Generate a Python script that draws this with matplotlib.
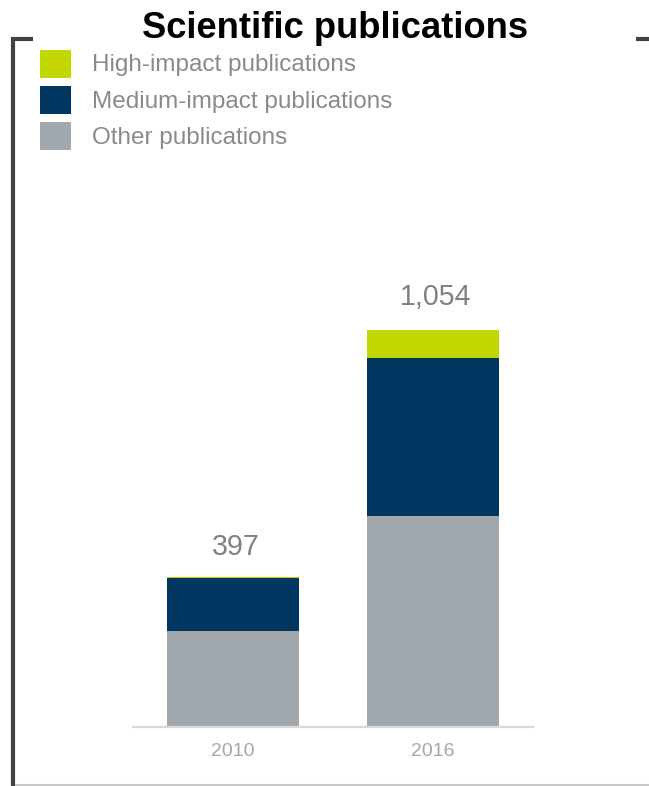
import matplotlib
matplotlib.use("Agg")
import matplotlib.pyplot as plt
from matplotlib.lines import Line2D
from matplotlib.patches import Rectangle

years = ["2010", "2016"]
other = [254, 559]
medium = [140, 420]
high = [3, 75]
totals = [397, 1054]
total_labels = ["397", "1,054"]
series_names = ["High-impact publications", "Medium-impact publications", "Other publications"]
colors = ["#c4d600", "#00365f", "#a0a7ad"]

W, H = 649, 786
plt.rcParams['font.family'] = ['Liberation Sans', 'DejaVu Sans']
fig = plt.figure(figsize=(W / 100, H / 100), dpi=100)

def fx(px):
    return px / W

def fy(py):
    return 1 - py / H

# axes placement
ax_left, ax_right = 133, 533
ax_bottom, ax_top = 726.7, 160
ax = fig.add_axes([fx(ax_left), fy(ax_bottom), (ax_right - ax_left) / W, (ax_bottom - ax_top) / H])

x = list(range(len(years)))
width = 0.662
bottoms_med = other
bottoms_high = [o + m for o, m in zip(other, medium)]
ax.bar(x, other, width, color=colors[2], linewidth=0)
ax.bar(x, medium, width, bottom=bottoms_med, color=colors[1], linewidth=0)
ax.bar(x, high, width, bottom=bottoms_high, color=colors[0], linewidth=0)

ax.set_xlim(-0.5, 1.5)
scale = 2.657  # units per pixel
ax.set_ylim(0, (ax_bottom - ax_top) * scale)

offsets = [16, 18]
for xi, t, lab, off in zip(x, totals, total_labels, offsets):
    ax.annotate(lab, (xi, t), xytext=(2, off), textcoords="offset points",
                ha="center", va="baseline", fontsize=20.6, color="#808080")

for s in ["top", "right", "left"]:
    ax.spines[s].set_visible(False)
ax.spines["bottom"].set_color("#d9d9d9")
ax.spines["bottom"].set_linewidth(1.6)
ax.set_yticks([])
ax.set_xticks(x)
ax.set_xticklabels(years, fontsize=14, color="#a6a6a6")
ax.tick_params(axis="x", length=0, pad=12)

# title
fig.text(fx(335), fy(38), "Scientific publications", ha="center", va="baseline",
         fontsize=26.2, fontweight="bold", color="black")

# legend (manual)
sq_tops = [49.5, 86, 121.7]
for name, col, top in zip(series_names, colors, sq_tops):
    fig.add_artist(Rectangle((fx(40), fy(top + 28)), 30.5 / W, 28 / H,
                             transform=fig.transFigure, facecolor=col, edgecolor="none"))
    fig.text(fx(92), fy(top + 16), name, ha="left", va="center",
             fontsize=17.5, color="#8a8a8a")

# frame decorations
dark = "#3f4443"
fig.add_artist(Line2D([fx(13), fx(13)], [fy(36.5), fy(786)], transform=fig.transFigure,
                      color=dark, linewidth=3, solid_capstyle="butt"))
fig.add_artist(Line2D([fx(11), fx(33)], [fy(38.5), fy(38.5)], transform=fig.transFigure,
                      color=dark, linewidth=3, solid_capstyle="butt"))
fig.add_artist(Line2D([fx(636), fx(649)], [fy(38.5), fy(38.5)], transform=fig.transFigure,
                      color=dark, linewidth=3, solid_capstyle="butt"))
fig.add_artist(Line2D([fx(15), fx(649)], [fy(785), fy(785)], transform=fig.transFigure,
                      color="#c8c8c8", linewidth=1.5, solid_capstyle="butt"))

fig.savefig("out.png", dpi=100)
